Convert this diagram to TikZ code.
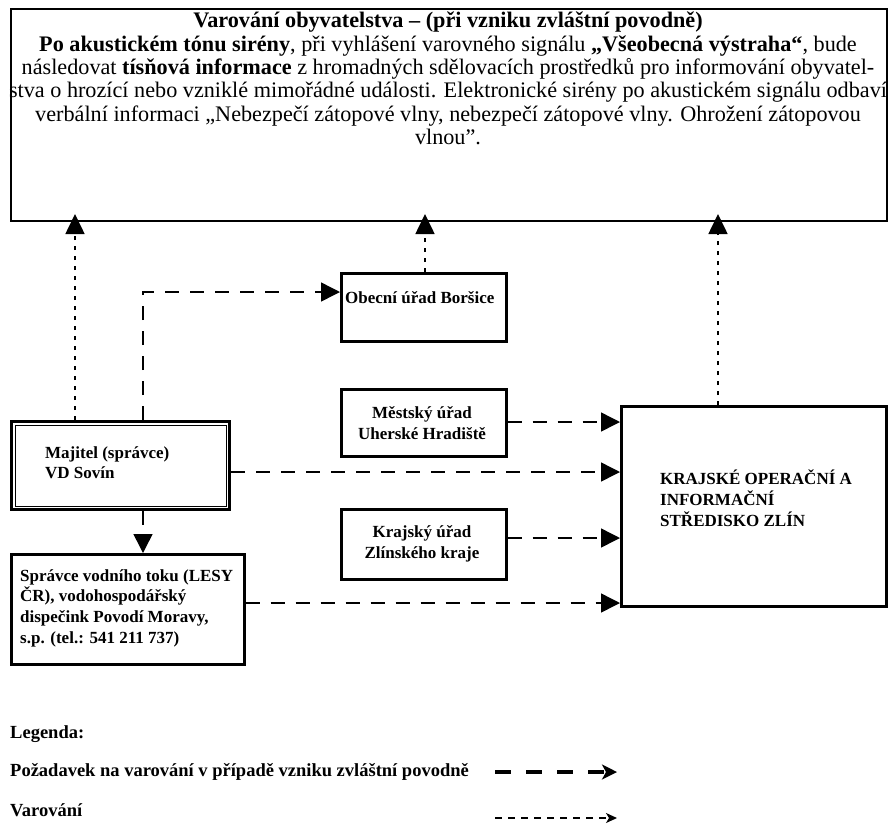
\documentclass[tikz,border=0pt]{standalone}
\usepackage{fontspec}
\setmainfont{Liberation Serif}
\usetikzlibrary{arrows.meta}
\begin{document}
\begin{tikzpicture}[x=1pt,y=-1pt,
  box/.style={draw,line width=2.6pt,inner sep=0pt,anchor=north west},
  txt/.style={font=\bfseries\fontsize{17}{20.8}\selectfont,align=left,inner sep=0pt},
  legtxt/.style={font=\bfseries\fontsize{18.5}{20}\selectfont,anchor=west,inner sep=0pt},
  req/.style={line width=1.5pt,dash pattern=on 14pt off 11pt,-{Triangle[length=19pt,width=19pt]}},
  warn/.style={line width=1.6pt,dash pattern=on 4pt off 6pt,-{Triangle[length=20pt,width=19pt]}},
]
\useasboundingbox (0,0) rectangle (889,823);
% top box
\node[draw,line width=2pt,minimum width=876pt,minimum height=212pt,anchor=north west,inner sep=0pt] (top) at (10,8) {};
\node[font=\fontsize{22.2}{23.3}\selectfont,align=center,anchor=north,inner sep=0pt] (toptxt) at (448,12) {%
\textbf{Varování obyvatelstva – (při vzniku zvláštní povodně)}\\
\textbf{Po akustickém tónu sirény}, při vyhlášení varovného signálu \textbf{„Všeobecná výstraha“}, bude\\
následovat \textbf{tísňová informace} z hromadných sdělovacích prostředků pro informování obyvatel-\\
stva o hrozící nebo vzniklé mimořádné události. Elektronické sirény po akustickém signálu odbaví\\
verbální informaci „Nebezpečí zátopové vlny, nebezpečí zátopové vlny. Ohrožení zátopovou\\
vlnou”.};
% boxes
\node[box,minimum width=165pt,minimum height=68pt] (obec) at (340,272) {};
\node[txt,anchor=west] (obect) at (345,298) {Obecní úřad Boršice};
\node[box,minimum width=165pt,minimum height=67pt] (mest) at (340,388) {};
\node[txt,align=center] (mestt) at (422,423) {Městský úřad\\Uherské Hradiště};
\node[box,minimum width=165pt,minimum height=70pt] (kraj) at (340,508) {};
\node[txt,align=center] (krajt) at (422,544) {Krajský úřad\\Zlínského kraje};
\node[box,minimum width=265pt,minimum height=200pt] (kois) at (620,405) {};
\node[txt,anchor=north west] (koist) at (660,470) {KRAJSKÉ OPERAČNÍ A\\INFORMAČNÍ\\STŘEDISKO ZLÍN};
\node[box,line width=3pt,minimum width=218pt,minimum height=88pt] (maj) at (10,420) {};
\draw[line width=0.8pt] ([shift={(5,5)}]maj.north west) rectangle ([shift={(-5,-5)}]maj.south east);
\node[txt,anchor=north west] (majt) at (45,446) {Majitel (správce)\\VD Sovín};
\node[box,minimum width=233pt,minimum height=110pt] (spr) at (10,553) {};
\node[txt,anchor=north west] (sprt) at (20,569) {Správce vodního toku (LESY\\ČR), vodohospodářský\\dispečink Povodí Moravy,\\s.p. (tel.: 541 211 737)};
% warning arrows
\draw[warn] (maj.north -| 75,0) -- ([yshift=8pt]top.south -| 75,0);
\draw[warn] (obec.north -| 425,0) -- ([yshift=8pt]top.south -| 425,0);
\draw[warn] (kois.north -| 718,0) -- ([yshift=8pt]top.south -| 718,0);
% request arrows
\draw[req] (maj.north -| 143,0) -- (143,292) -- (obec.west |- 0,292);
\draw[req] (maj.south -| 143,0) -- (spr.north -| 143,0);
\draw[req] (mest.east |- 0,422) -- (kois.west |- 0,422);
\draw[req] (maj.east |- 0,472) -- (kois.west |- 0,472);
\draw[req] (kraj.east |- 0,538) -- (kois.west |- 0,538);
\draw[req] (spr.east |- 0,603) -- (kois.west |- 0,603);
% legend
\node[legtxt] (leg) at (10,734) {Legenda:};
\node[legtxt] (leg1) at (10,772) {Požadavek na varování v případě vzniku zvláštní povodně};
\node[legtxt] (leg2) at (10,810) {Varování};
\coordinate (l1a) at (495,772);
\coordinate (l1b) at (617,772);
\coordinate (l2a) at (495,818);
\coordinate (l2b) at (617,818);
\draw[line width=3.5pt,dash pattern=on 16pt off 15pt,-{Stealth[length=15pt,width=15pt,inset=4pt]}] (l1a) -- (l1b);
\draw[line width=1.5pt,dash pattern=on 7pt off 6pt,-{Stealth[length=11pt,width=10pt,inset=3pt]}] (l2a) -- (l2b);
\end{tikzpicture}
\end{document}
